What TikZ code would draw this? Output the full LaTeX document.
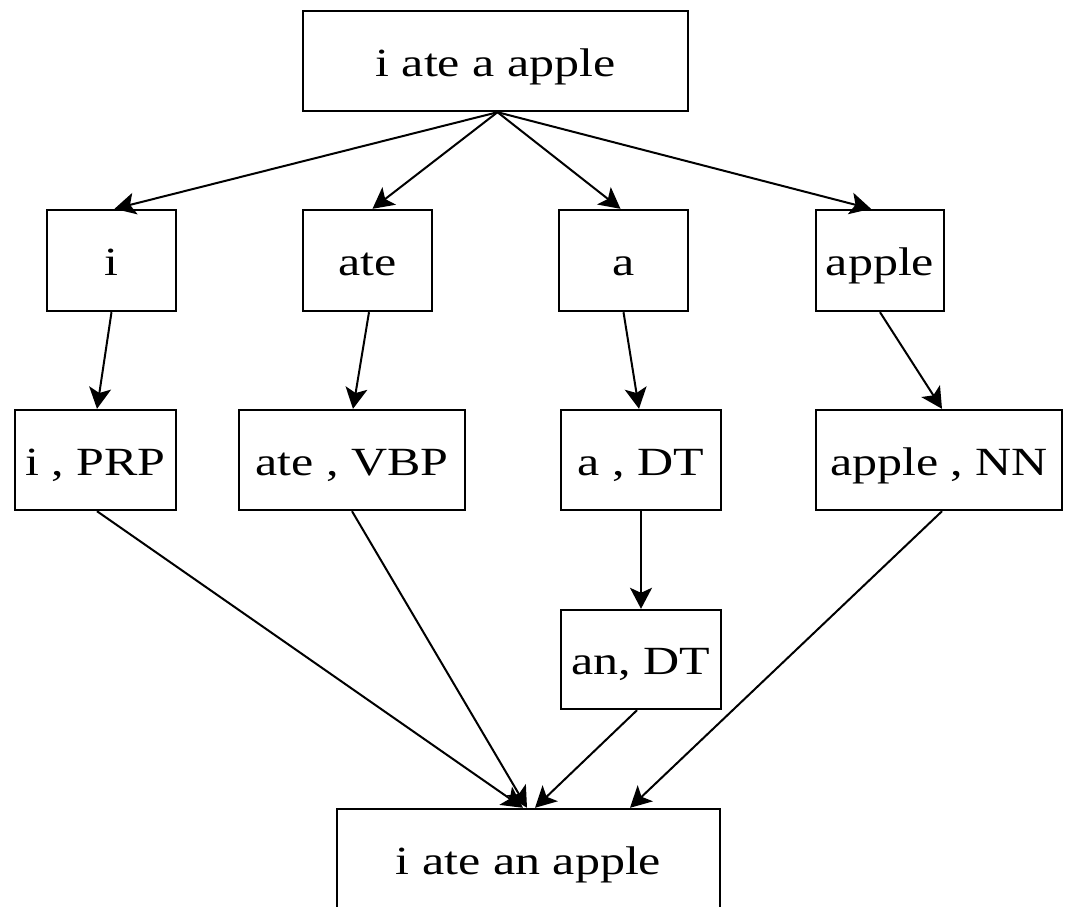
\documentclass[tikz,border=0pt]{standalone}
\usepackage{fontspec}
\setmainfont{Liberation Serif}[FakeStretch=1.25]
\usetikzlibrary{arrows.meta,calc}
\begin{document}
\begin{tikzpicture}[x=1pt,y=-1pt,
  box/.style={draw, line width=2.4pt, inner sep=0pt, text height=30pt, text depth=0pt,
    font=\fontsize{40}{40}\selectfont},
  link/.style={line width=2pt, -{Stealth[length=21pt,width=22pt,inset=5pt]}}]
\useasboundingbox (0,0) rectangle (1065,906);
\clip (0,0) rectangle (1065,906);
% top
\node[box, minimum width=385pt, minimum height=100pt] (top) at (495.5,61) {i ate a apple};
% row 2
\node[box, minimum width=129pt, minimum height=101pt] (wi) at (111.5,260.5) {i};
\node[box, minimum width=129pt, minimum height=101pt] (wate) at (367.5,260.5) {ate};
\node[box, minimum width=129pt, minimum height=101pt] (wa) at (623.5,260.5) {a};
\node[box, minimum width=128pt, minimum height=101pt] (wapple) at (880,260.5) {apple};
% row 3
\node[box, minimum width=161pt, minimum height=100pt] (ti) at (95.5,460) {i , PRP};
\node[box, minimum width=226pt, minimum height=100pt] (tate) at (352,460) {ate , VBP};
\node[box, minimum width=160pt, minimum height=100pt] (ta) at (641,460) {a , DT};
\node[box, minimum width=246pt, minimum height=100pt] (tapple) at (939,460) {apple , NN};
% row 4
\node[box, minimum width=160pt, minimum height=99pt] (an) at (641,659.5) {an, DT};
% bottom
\node[box, minimum width=383pt, minimum height=100pt] (bot) at (528.5,859) {i ate an apple};
% edges top -> row 2
\draw[link] ([xshift=2pt]top.south) -- ([xshift=3pt]wi.north);
\draw[link] ([xshift=2pt]top.south) -- ([xshift=5pt]wate.north);
\draw[link] ([xshift=2pt]top.south) -- ([xshift=-3pt]wa.north);
\draw[link] ([xshift=2pt]top.south) -- ([xshift=-9pt]wapple.north);
% row 2 -> row 3
\draw[link] (wi.south) -- ([xshift=1.5pt]ti.north);
\draw[link] ([xshift=1.5pt]wate.south) -- ([xshift=1pt]tate.north);
\draw[link] (wa.south) -- ([xshift=-2pt]ta.north);
\draw[link] (wapple.south) -- ([xshift=3pt]tapple.north);
% a,DT -> an,DT
\draw[link] (ta.south) -- (an.north);
% row 3 -> bottom
\draw[link] ([xshift=1.5pt]ti.south) -- ([xshift=-5.5pt]bot.north);
\draw[link] (tate.south) -- ([xshift=-1.5pt]bot.north);
\draw[link] ([xshift=-4pt]an.south) -- ([xshift=6.5pt]bot.north);
\draw[link] ([xshift=3pt]tapple.south) -- ([xshift=101.5pt]bot.north);
\end{tikzpicture}
\end{document}
